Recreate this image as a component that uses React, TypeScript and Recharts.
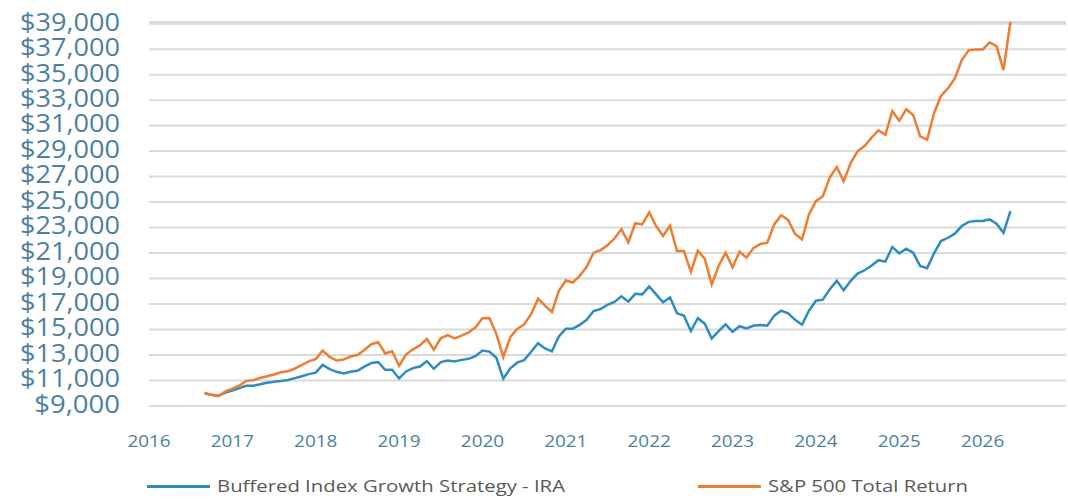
import React from "react";
import { LineChart, Line, XAxis, YAxis, CartesianGrid, Legend } from "recharts";

// Monthly observations, first one at end of August 2016
const START_YEAR = 2016;
const START_MONTH = 8; // months elapsed in START_YEAR at first point

const bufferedSeries = [
  10000, 9890, 9800, 10050, 10220, 10400, 10580, 10590, 10700, 10830, 10900, 10960,
  11040, 11190, 11340, 11500, 11620, 12220, 11900, 11680, 11560, 11680, 11760, 12090,
  12370, 12440, 11840, 11840, 11160, 11710, 11970, 12100, 12520, 11920, 12440, 12570,
  12490, 12620, 12700, 12910, 13350, 13270, 12780, 11140, 11960, 12400, 12600, 13260,
  13920, 13520, 13290, 14450, 15070, 15070, 15370, 15760, 16450, 16610, 16930, 17160,
  17610, 17190, 17800, 17760, 18390, 17760, 17130, 17520, 16270, 16090, 14890, 15890,
  15460, 14300, 14870, 15410, 14820, 15260, 15080, 15290, 15360, 15300, 16090, 16480,
  16280, 15760, 15380, 16480, 17260, 17340, 18170, 18820, 18090, 18820, 19390, 19650,
  20000, 20440, 20330, 21480, 20980, 21340, 21030, 19990, 19810, 20980, 21940, 22200,
  22520, 23120, 23450, 23510, 23510, 23640, 23300, 22590, 24290,
];

const sp500Series = [
  10000, 9890, 9780, 10150, 10360, 10590, 10970, 11030, 11200, 11340, 11470, 11650,
  11720, 11940, 12230, 12500, 12680, 13350, 12850, 12570, 12640, 12880, 13000, 13400,
  13850, 14000, 13120, 13300, 12140, 13040, 13450, 13750, 14260, 13420, 14310, 14560,
  14300, 14520, 14770, 15170, 15880, 15900, 14660, 12830, 14400, 15050, 15400, 16200,
  17420, 16870, 16380, 18040, 18850, 18690, 19210, 19920, 21030, 21230, 21620, 22140,
  22860, 21840, 23340, 23250, 24200, 23120, 22340, 23150, 21160, 21160, 19530, 21190,
  20550, 18540, 19990, 21030, 19890, 21110, 20640, 21390, 21710, 21810, 23250, 23970,
  23600, 22500, 22080, 24030, 25070, 25460, 26940, 27750, 26630, 28060, 28980, 29400,
  30050, 30630, 30280, 32140, 31380, 32280, 31840, 30150, 29890, 31970, 33330, 33920,
  34700, 36140, 36920, 36970, 36970, 37520, 37230, 35360, 39130,
];

const yearTicks = [2016, 2017, 2018, 2019, 2020, 2021, 2022, 2023, 2024, 2025, 2026];
const valueTicks = [9000, 11000, 13000, 15000, 17000, 19000, 21000, 23000, 25000, 27000, 29000, 31000, 33000, 35000, 37000, 39000];

const seriesNames = ["Buffered Index Growth Strategy - IRA", "S&P 500 Total Return"];

const BLUE = "#2E8CC0";
const ORANGE = "#ED7D31";
const AXIS_TEXT = "#4C7FA3";
const LEGEND_TEXT = "#595959";
const FONT = '"Open Sans", "Noto Sans", sans-serif';

const data = bufferedSeries.map((v, i) => ({
  t: START_YEAR + (START_MONTH + i) / 12,
  buffered: v,
  sp500: sp500Series[i],
}));

const formatMoney = (v: number) => "$" + v.toLocaleString("en-US");

const YTick = (props: any) => {
  const { x, y, payload } = props;
  const label = formatMoney(payload.value);
  return (
    <text
      x={x}
      y={y - 2}
      dy="0.355em"
      textAnchor="end"
      fill={AXIS_TEXT}
      fontSize={25}
      fontFamily={FONT}
      textLength={label.length * 14.3}
      lengthAdjust="spacingAndGlyphs"
    >
      {label}
    </text>
  );
};

const XTick = (props: any) => {
  const { x, y, payload } = props;
  const label = String(payload.value);
  return (
    <text
      x={x}
      y={y}
      dy="0.71em"
      textAnchor="middle"
      fill={AXIS_TEXT}
      fontSize={16.5}
      fontFamily={FONT}
      textLength={label.length * 10.8}
      lengthAdjust="spacingAndGlyphs"
    >
      {label}
    </text>
  );
};

const legendLefts = [147, 698];
const legendTextWidths = [348, 200];

const renderLegend = (props: any) => {
  const payload = props.payload || [];
  return (
    <svg width={1068} height={25} style={{ display: "block" }}>
      {payload.map((entry: any, idx: number) => (
        <g key={entry.value}>
          <line
            x1={legendLefts[idx]}
            x2={legendLefts[idx] + 63}
            y1={12.5}
            y2={12.5}
            stroke={entry.color}
            strokeWidth={3}
          />
          <text
            x={legendLefts[idx] + 70}
            y={12}
            dy="0.355em"
            fill={LEGEND_TEXT}
            fontSize={16.5}
            fontFamily={FONT}
            textLength={legendTextWidths[idx]}
            lengthAdjust="spacingAndGlyphs"
          >
            {entry.value}
          </text>
        </g>
      ))}
    </svg>
  );
};

export default function App() {
  return (
    <div style={{ position: "absolute", left: 0, top: 0, width: 1068, height: 499, background: "#fff" }}>
      <LineChart width={1068} height={499} data={data} margin={{ top: 22, right: 2, left: 0, bottom: 0 }}>
        <CartesianGrid vertical={false} stroke="#DADADA" strokeWidth={2} />
        <XAxis
          dataKey="t"
          type="number"
          domain={[2016, 2026.89]}
          ticks={yearTicks}
          allowDecimals={false}
          axisLine={false}
          tickLine={false}
          height={68}
          tickMargin={23}
          tick={<XTick />}
        />
        <YAxis
          type="number"
          domain={[9000, 39000]}
          ticks={valueTicks}
          width={149}
          axisLine={false}
          tickLine={false}
          tickMargin={23}
          interval={0}
          tick={<YTick />}
        />
        <Legend
          verticalAlign="bottom"
          content={renderLegend}
          wrapperStyle={{ left: 0, width: 1068, height: 25 }}
        />
        <Line
          type="linear"
          dataKey="buffered"
          name={seriesNames[0]}
          stroke={BLUE}
          strokeWidth={2.5}
          dot={false}
          isAnimationActive={false}
        />
        <Line
          type="linear"
          dataKey="sp500"
          name={seriesNames[1]}
          stroke={ORANGE}
          strokeWidth={2.5}
          dot={false}
          isAnimationActive={false}
        />
      </LineChart>
    </div>
  );
}
